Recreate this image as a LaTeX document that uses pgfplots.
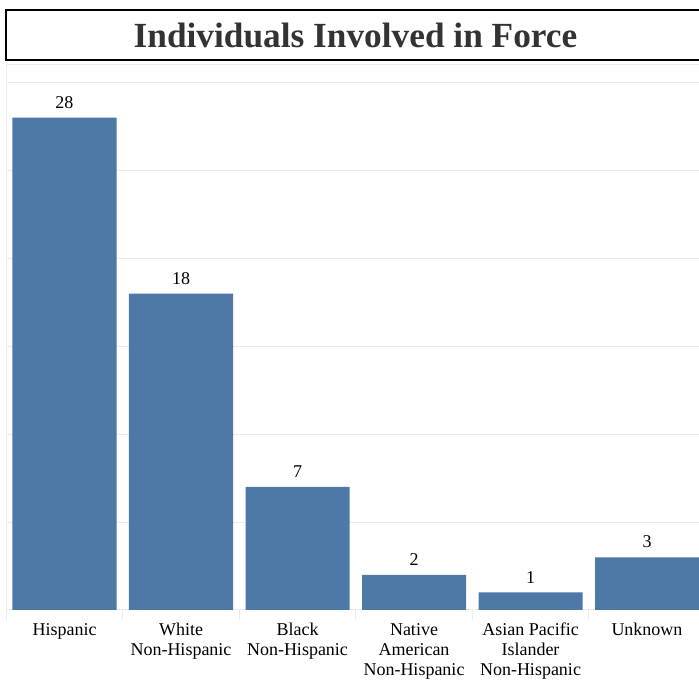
\documentclass[border=0pt]{standalone}
\usepackage{pgfplots}
\pgfplotsset{compat=1.18}
\usepackage{fontspec}
\setmainfont{Liberation Serif}
\definecolor{barblue}{HTML}{4E79A7}
\definecolor{gridgray}{HTML}{EBEBEB}
\definecolor{titlegray}{HTML}{333333}
\begin{document}
\begin{tikzpicture}[x=1pt,y=1pt]
\useasboundingbox (0,0) rectangle (699,682);
\clip (0,0) rectangle (699,682);
\fill[white] (0,0) rectangle (699,682);
% title box
\draw[line width=1.5pt] (6,622) rectangle (712,672);
\node[font=\fontsize{35.3}{40}\selectfont\bfseries, text=titlegray] at (355.5,647) {Individuals Involved in Force};
\begin{axis}[
  at={(6.25pt,72pt)}, anchor=south west,
  scale only axis, width=699pt, height=545pt,
  xmin=-0.5, xmax=5.5, ymin=0, ymax=31,
  ybar, bar width=104pt,
  /pgf/number format/assume math mode=true,
  axis line style={draw=gridgray, line width=1pt},
  xtick={0,...,5},
  xticklabels={Hispanic, White\\Non-Hispanic, Black\\Non-Hispanic,
    Native\\American\\Non-Hispanic, Asian Pacific\\Islander\\Non-Hispanic, Unknown},
  minor xtick={-0.5,0.5,1.5,2.5,3.5,4.5},
  xtick align=outside, xtick pos=lower,
  major tick length=0pt, minor tick length=10pt,
  minor tick style={draw=gridgray, line width=1pt},
  x tick label style={align=center, font=\fontsize{18}{20}\selectfont,
    text=black, anchor=north, inner sep=0pt, yshift=-13pt},
  ytick={0,5,...,30}, yticklabels={}, ytick pos=left,
  ymajorgrids, grid style={draw=gridgray, line width=1pt},
  major y tick style={draw=none},
  nodes near coords,
  every node near coord/.append style={font=\fontsize{18}{20}\selectfont,
    text=black, anchor=south, inner sep=0pt, yshift=9pt},
]
\addplot[fill=barblue, draw=none] coordinates {(0,28) (1,18) (2,7) (3,2) (4,1) (5,3)};
\end{axis}
\end{tikzpicture}
\end{document}
